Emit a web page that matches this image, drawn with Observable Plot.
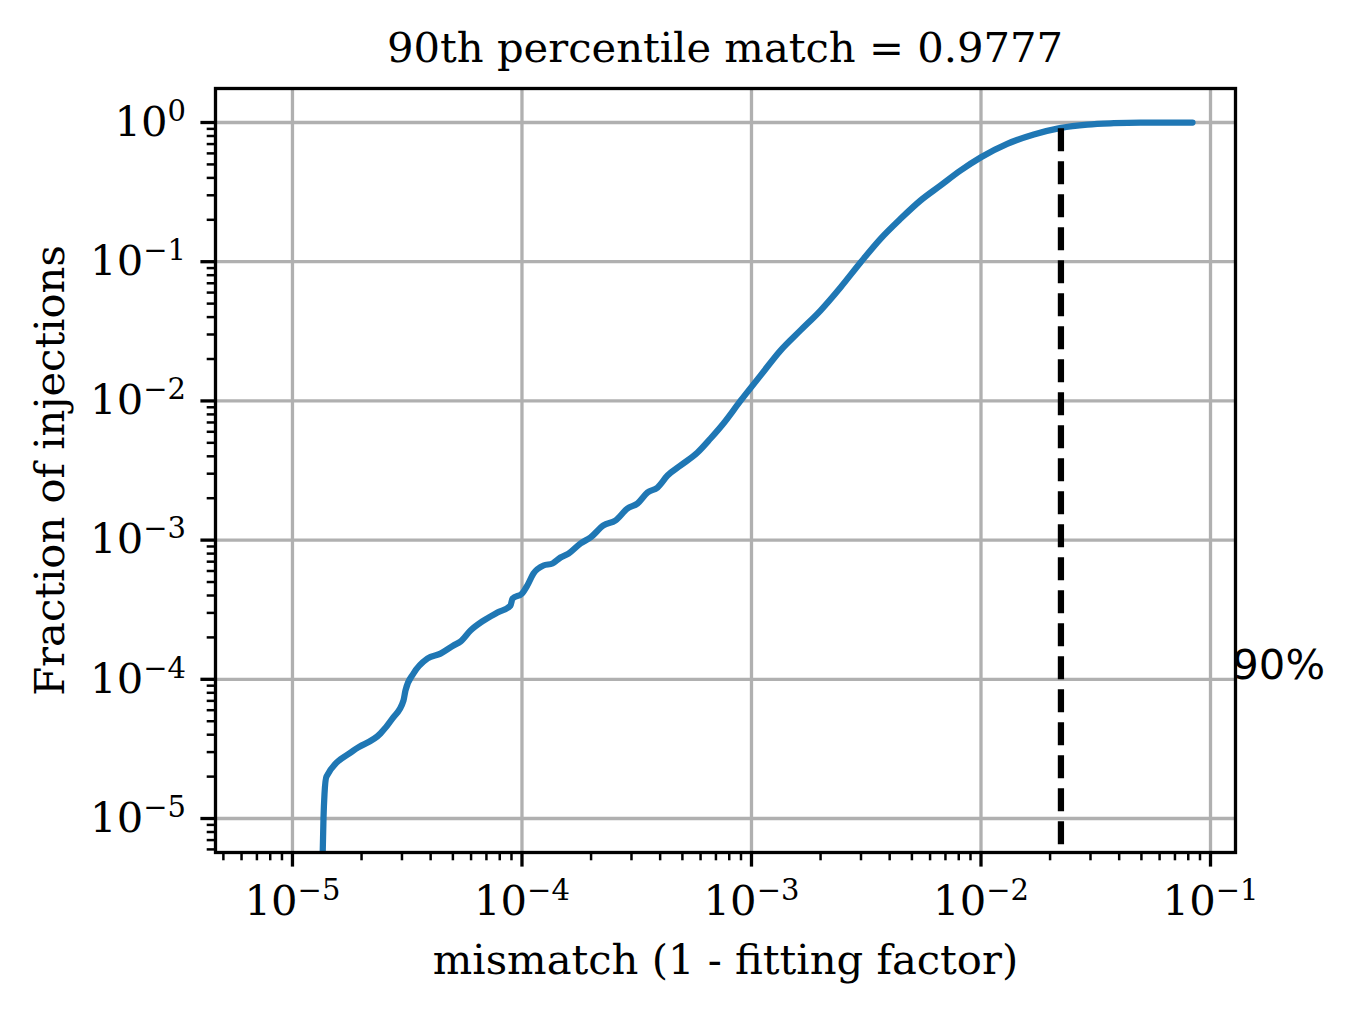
<!DOCTYPE html>
<html>
<head>
<meta charset="utf-8">
<script src="https://cdn.jsdelivr.net/npm/d3@7"></script>
<script src="https://cdn.jsdelivr.net/npm/@observablehq/plot@0.6"></script>
<style>
  html, body { margin: 0; padding: 0; background: #fff; }
  #wrap { width: 1351px; height: 1013px; position: relative; overflow: hidden; }
  #title { height: 80px; box-sizing: border-box; padding-top: 27px; line-height: 42px;
           font-family: "DejaVu Serif"; font-size: 41.7px; color: #000;
           width: 1020px; margin-left: 215px; text-align: center; white-space: nowrap; }
</style>
</head>
<body>
<div id="wrap">
  <div id="title">90th percentile match = 0.9777</div>
  <div id="chart"></div>
</div>
<script>
// ---- data ----
const mismatch = [1.352e-5, 1.365e-5, 1.379e-5, 1.406e-5, 1.845e-5, 2.417e-5, 2.727e-5, 3.046e-5, 3.107e-5, 3.367e-5,
  3.875e-5, 4.415e-5, 5.03e-5, 5.40e-5, 5.965e-5, 6.80e-5, 7.82e-5, 8.91e-5, 9.09e-5, 1.0e-4,
  1.055e-4, 1.122e-4, 1.241e-4, 1.358e-4, 1.472e-4, 1.595e-4, 1.798e-4, 1.988e-4, 2.265e-4, 2.555e-4,
  2.882e-4, 3.187e-4, 3.523e-4, 3.895e-4, 4.305e-4, 4.905e-4, 5.82e-4, 6.63e-4, 7.55e-4, 8.95e-4,
  1.094e-3, 1.337e-3, 1.634e-3, 1.998e-3, 2.442e-3, 2.985e-3, 3.649e-3, 4.459e-3, 5.45e-3, 6.66e-3,
  8.14e-3, 1.0e-2, 1.301e-2, 1.699e-2, 2.23e-2, 2.91e-2, 3.791e-2, 4.955e-2, 8.35e-2];
const fraction = [5e-6, 1e-5, 1.5e-5, 2e-5, 3.08e-5, 4.08e-5, 5.23e-5, 7.04e-5, 8.31e-5, 1.10e-4,
  1.41e-4, 1.53e-4, 1.75e-4, 1.87e-4, 2.24e-4, 2.64e-4, 3.02e-4, 3.39e-4, 3.80e-4, 4.13e-4,
  4.72e-4, 5.75e-4, 6.57e-4, 6.79e-4, 7.50e-4, 8.01e-4, 9.46e-4, 1.044e-3, 1.274e-3, 1.383e-3,
  1.687e-3, 1.833e-3, 2.198e-3, 2.387e-3, 2.911e-3, 3.434e-3, 4.26e-3, 5.37e-3, 6.89e-3, 1.0e-2,
  1.52e-2, 2.30e-2, 3.21e-2, 4.46e-2, 6.53e-2, 9.87e-2, 0.1461, 0.2033, 0.2753, 0.3527,
  0.4518, 0.5632, 0.703, 0.820, 0.916, 0.967, 0.9885, 0.998, 1.0];
const mismatch90 = 0.0223;      // 1 - 0.9777
const fraction90Top = 0.9;
const label90 = "90%";
const label90Pos = {x: 0.1245, y: 1e-4};
const xDomain = [4.62e-6, 0.1285];
const yDomain = [5.7e-6, 1.755];
const xMajor = [1e-5, 1e-4, 1e-3, 1e-2, 1e-1];
const yMajor = [1e-5, 1e-4, 1e-3, 1e-2, 1e-1, 1e0];
const subs = [2, 3, 4, 5, 6, 7, 8, 9];
const decades = [1e-6, 1e-5, 1e-4, 1e-3, 1e-2, 1e-1];
const xLabel = "mismatch (1 - fitting factor)";
const yLabel = "Fraction of injections";

const minorIn = (dom) => decades.flatMap(d => subs.map(s => +(s * d).toPrecision(3))).filter(v => v >= dom[0] && v <= dom[1]);
const xMinor = minorIn(xDomain);
const yMinor = minorIn(yDomain);
const fmt = d => "10^" + Math.round(Math.log10(d));

const curve = mismatch.map((m, i) => ({m, f: fraction[i]}));

const FS = 41.7;
const chart = Plot.plot({
  width: 1351,
  height: 933,
  marginLeft: 215,
  marginRight: 116,
  marginTop: 8,
  marginBottom: 161,
  style: {fontFamily: "DejaVu Serif", fontSize: FS + "px", background: "#fff", overflow: "visible"},
  x: {type: "log", domain: xDomain},
  y: {type: "log", domain: yDomain},
  marks: [
    Plot.gridX(xMajor, {stroke: "#b0b0b0", strokeOpacity: 1, strokeWidth: 3.3}),
    Plot.gridY(yMajor, {stroke: "#b0b0b0", strokeOpacity: 1, strokeWidth: 3.3}),
    Plot.line(curve, {x: "m", y: "f", curve: "monotone-x", stroke: "#1f77b4", strokeWidth: 6.25, strokeLinejoin: "round", clip: true}),
    Plot.ruleX([mismatch90], {x: d => d, y1: fraction90Top, y2: yDomain[0], stroke: "#000", strokeWidth: 6.25, strokeDasharray: "23,10", clip: true}),
    Plot.frame({stroke: "#000", strokeWidth: 3.3}),
    Plot.axisX({ticks: xMinor, tickSize: 8.3, strokeWidth: 2.5, tickFormat: () => "", label: null}),
    Plot.axisY({ticks: yMinor, tickSize: 8.3, strokeWidth: 2.5, tickFormat: () => "", label: null}),
    Plot.axisX({ticks: xMajor, tickSize: 14.6, tickPadding: 18, strokeWidth: 3.3, tickFormat: fmt, label: null}),
    Plot.axisY({ticks: yMajor, tickSize: 14.6, tickPadding: 15, strokeWidth: 3.3, tickFormat: fmt, label: null}),
    Plot.text([label90], {x: () => label90Pos.x, y: () => label90Pos.y, text: d => d, textAnchor: "start", lineAnchor: "bottom",
      fontFamily: "DejaVu Sans", fontSize: FS, fill: "#000"}),
    Plot.text([xLabel], {text: d => d, frameAnchor: "bottom", textAnchor: "middle", lineAnchor: "bottom", dy: 121, fontSize: FS, fill: "#000"}),
    Plot.text([yLabel], {text: d => d, frameAnchor: "left", textAnchor: "middle", rotate: -90, lineAnchor: "bottom", dx: -152, fontSize: FS, fill: "#000"})
  ]
});

// render tick labels as 10 with superscript exponent
const ns = "http://www.w3.org/2000/svg";
chart.querySelectorAll("text").forEach(t => {
  const s = t.textContent;
  const m = /^10\^(-?\d+)$/.exec(s);
  if (!m) return;
  t.textContent = "";
  const a = document.createElementNS(ns, "tspan");
  a.textContent = "10";
  const b = document.createElementNS(ns, "tspan");
  b.textContent = m[1].replace("-", "\u2212");
  b.setAttribute("dy", "-15");
  b.setAttribute("font-size", "29");
  t.append(a, b);
});
document.getElementById("chart").appendChild(chart);
</script>
</body>
</html>
